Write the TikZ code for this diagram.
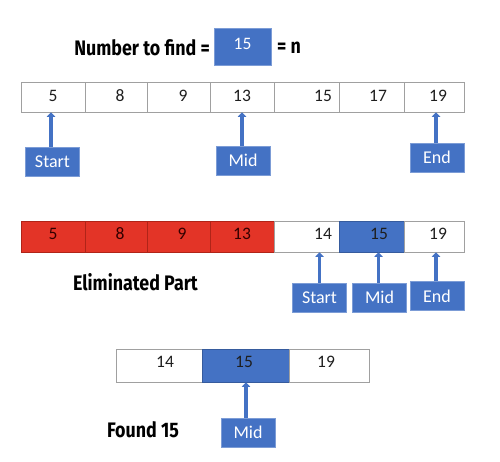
\documentclass[tikz,border=0pt]{standalone}
\usepackage{fontspec}
\setmainfont{Carlito}
\newfontfamily\condbold[FakeStretch=0.85]{Fira Sans}
\usetikzlibrary{arrows.meta}
\definecolor{offblue}{HTML}{4472C4}
\definecolor{offred}{HTML}{E33427}
\definecolor{redline}{HTML}{B02418}
\definecolor{cellline}{HTML}{A0A0A0}
\definecolor{txt}{HTML}{1E1E1E}
\tikzset{
  cellbox/.style={draw=cellline, line width=0.8pt, fill=white, inner sep=0pt},
  redcell/.style={fill=offred, draw=redline},
  bluecell/.style={fill=offblue, draw=offblue!80!black},
  celltext/.style={inner sep=0pt, font=\fontsize{17.5}{19}\selectfont, text=txt},
  redtext/.style={text=black!80!red},
  lblbox/.style={fill=offblue, draw=offblue!70!white, line width=0.6pt, text=white, inner sep=0pt,
    minimum width=54pt, minimum height=29pt, font=\fontsize{18}{20}\selectfont},
  ptr/.style={draw=offblue, line width=3.6pt, -{Triangle[width=8.5pt,length=4.5pt]}},
  heading/.style={inner sep=0pt, font=\condbold\bfseries\fontsize{21}{23}\selectfont, text=black}
}
\begin{document}
\begin{tikzpicture}[x=1pt,y=-1pt]
\useasboundingbox (0,0) rectangle (500,462);
\fill[white] (0,0) rectangle (500,462);
% title
\node[heading, anchor=east] (title) at (210,48) {Number to find =};
\node[fill=offblue, draw=offblue!70!white, text=white, inner sep=0pt, minimum width=57pt, minimum height=37pt,
  text depth=6pt, font=\fontsize{17.5}{19}\selectfont] (target) at (242.5,46.5) {15};
\node[heading, anchor=west] (eqn) at (277,48) {= n};
% row 1
\node[cellbox,minimum width=64pt,minimum height=30pt] (r1c1) at (53,97) {};
\node[cellbox,minimum width=62pt,minimum height=30pt] (r1c2) at (116,97) {};
\node[cellbox,minimum width=63pt,minimum height=30pt] (r1c3) at (178.5,97) {};
\node[cellbox,minimum width=64pt,minimum height=30pt] (r1c4) at (242,97) {};
\node[cellbox,minimum width=65pt,minimum height=30pt] (r1c5) at (306.5,97) {};
\node[cellbox,minimum width=65pt,minimum height=30pt] (r1c6) at (371.5,97) {};
\node[cellbox,minimum width=60pt,minimum height=30pt] (r1c7) at (434,97) {};
\node[celltext] (t11) at (53,96) {5};
\node[celltext] (t12) at (120,96) {8};
\node[celltext] (t13) at (183,96) {9};
\node[celltext] (t14) at (242,96) {13};
\node[celltext] (t15) at (323,96) {15};
\node[celltext] (t16) at (378,96) {17};
\node[celltext] (t17) at (438,96) {19};
\node[lblbox] (s1) at (52.5,161.5) {Start};
\node[lblbox] (m1) at (243,160.5) {Mid};
\node[lblbox] (e1) at (437,157.5) {End};
\draw[ptr] ([xshift=-1.5pt]s1.north) -- ([xshift=-1.5pt]s1.north |- r1c1.south);
\draw[ptr] ([xshift=-1pt]m1.north) -- ([xshift=-1pt]m1.north |- r1c4.south);
\draw[ptr] ([xshift=-1pt]e1.north) -- ([xshift=-1pt]e1.north |- r1c7.south);
% row 2
\node[cellbox,redcell,minimum width=64pt,minimum height=31pt] (r2c1) at (53,236.5) {};
\node[cellbox,redcell,minimum width=62pt,minimum height=31pt] (r2c2) at (116,236.5) {};
\node[cellbox,redcell,minimum width=63pt,minimum height=31pt] (r2c3) at (178.5,236.5) {};
\node[cellbox,redcell,minimum width=64pt,minimum height=31pt] (r2c4) at (242,236.5) {};
\node[cellbox,minimum width=65pt,minimum height=31pt] (r2c5) at (306.5,236.5) {};
\node[cellbox,bluecell,minimum width=65pt,minimum height=31pt] (r2c6) at (371.5,236.5) {};
\node[cellbox,minimum width=60pt,minimum height=31pt] (r2c7) at (434,236.5) {};
\node[celltext,redtext] (t21) at (53,234) {5};
\node[celltext,redtext] (t22) at (120,234) {8};
\node[celltext,redtext] (t23) at (182,234) {9};
\node[celltext,redtext] (t24) at (242,234) {13};
\node[celltext] (t25) at (323,234) {14};
\node[celltext] (t26) at (379,234) {15};
\node[celltext] (t27) at (438,234) {19};
\node[heading] (elim) at (135.5,282) {Eliminated Part};
\node[lblbox] (s2) at (319.5,297.5) {Start};
\node[lblbox] (m2) at (379.5,297.5) {Mid};
\node[lblbox] (e2) at (437,296) {End};
\draw[ptr] (s2.north) -- (s2.north |- r2c5.south);
\draw[ptr] ([xshift=-1pt]m2.north) -- ([xshift=-1pt]m2.north |- r2c6.south);
\draw[ptr] ([xshift=-1pt]e2.north) -- ([xshift=-1pt]e2.north |- r2c7.south);
% row 3
\node[cellbox,minimum width=86pt,minimum height=33pt] (r3c1) at (159,365.5) {};
\node[cellbox,bluecell,minimum width=87pt,minimum height=33pt] (r3c2) at (245.5,365.5) {};
\node[cellbox,minimum width=80pt,minimum height=33pt] (r3c3) at (329,365.5) {};
\node[celltext] (t31) at (165,362) {14};
\node[celltext] (t32) at (244,362) {15};
\node[celltext] (t33) at (326,362) {19};
\node[heading] (found) at (143,430) {Found 15};
\node[lblbox] (m3) at (248,432.5) {Mid};
\draw[ptr] ([xshift=-2pt]m3.north) -- ([xshift=-2pt]m3.north |- r3c2.south);
\end{tikzpicture}
\end{document}
